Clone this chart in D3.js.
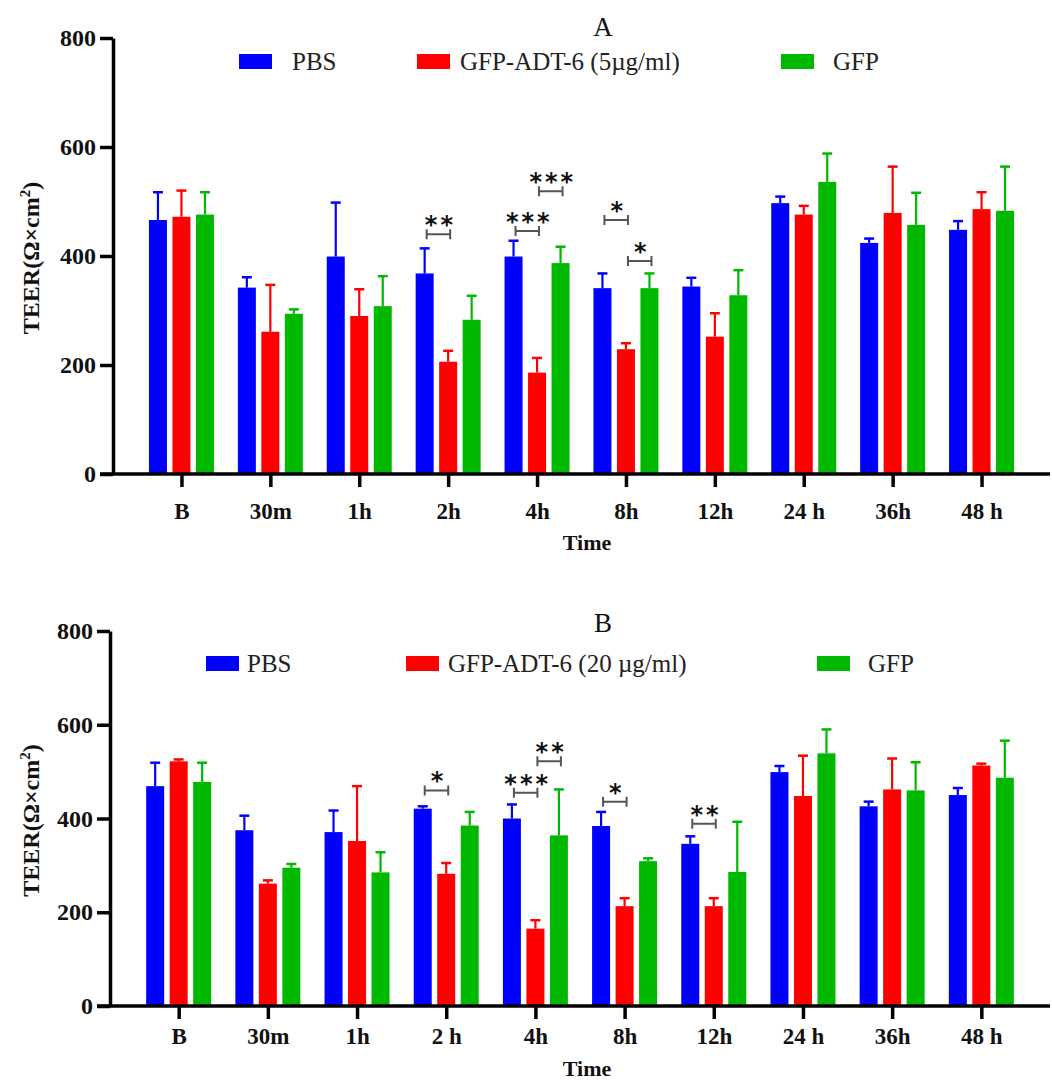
<!DOCTYPE html>
<html>
<head>
<meta charset="utf-8">
<script src="https://cdn.jsdelivr.net/npm/d3@7"></script>
<style>
  body { margin: 0; background: #fff; }
  svg text { font-family: "Liberation Serif", "Times New Roman", serif; }
</style>
</head>
<body>
<div id="chart"></div>
<script>
// Time points (panel B writes "2 h" with a space)
const categoriesA = ["B", "30m", "1h", "2h", "4h", "8h", "12h", "24 h", "36h", "48 h"];
const categoriesB = ["B", "30m", "1h", "2 h", "4h", "8h", "12h", "24 h", "36h", "48 h"];
const seriesNames = ["PBS", "GFP-ADT-6", "GFP"];
const yTicks = [0, 200, 400, 600, 800];

// Panel A means and upper error (SD)
const pbsA = [466, 342, 399, 368, 399, 341, 344, 497, 424, 448];
const adtA = [472, 261, 290, 206, 186, 229, 252, 476, 479, 486];
const gfpA = [476, 294, 308, 283, 387, 341, 328, 536, 457, 483];
const pbsErrA = [51, 19, 99, 46, 29, 27, 16, 12, 8, 16];
const adtErrA = [48, 86, 49, 20, 27, 11, 43, 16, 85, 31];
const gfpErrA = [41, 8, 55, 44, 30, 27, 46, 52, 59, 81];

// Panel B means and upper error (SD)
const pbsB = [469, 375, 371, 421, 400, 384, 346, 499, 426, 450];
const adtB = [522, 261, 352, 282, 165, 213, 213, 448, 462, 513];
const gfpB = [478, 295, 285, 385, 364, 309, 286, 539, 460, 487];
const pbsErrB = [50, 31, 46, 5, 30, 30, 16, 13, 10, 15];
const adtErrB = [4, 7, 117, 23, 18, 17, 17, 86, 66, 4];
const gfpErrB = [41, 8, 43, 29, 98, 6, 107, 51, 60, 79];

// Significance brackets: between series index a and b, at a TEER level
const sigA = [
  { cat: "2h", a: 0, b: 1, level: 440, label: "**" },
  { cat: "4h", a: 0, b: 1, level: 446, label: "***" },
  { cat: "4h", a: 1, b: 2, level: 519, label: "***" },
  { cat: "8h", a: 0, b: 1, level: 466, label: "*" },
  { cat: "8h", a: 1, b: 2, level: 391, label: "*" }
];
const sigB = [
  { cat: "2 h", a: 0, b: 1, level: 460, label: "*" },
  { cat: "4h", a: 0, b: 1, level: 455, label: "***" },
  { cat: "4h", a: 1, b: 2, level: 522, label: "**" },
  { cat: "8h", a: 0, b: 1, level: 436, label: "*" },
  { cat: "12h", a: 0, b: 1, level: 389, label: "**" }
];

const legendA = ["PBS", "GFP-ADT-6 (5\u00b5g/ml)", "GFP"];
const legendB = ["PBS", "GFP-ADT-6 (20 \u00b5g/ml)", "GFP"];

const colors = ["#0000ff", "#ff0000", "#00b800"];

const width = 1052, height = 1082;
const svg = d3.select("#chart").append("svg")
  .attr("width", width)
  .attr("height", height);

svg.append("rect").attr("width", width).attr("height", height).attr("fill", "#fff");

function drawPanel(p) {
  const g = svg.append("g");

  // x: time point centres, inner band for the three groups
  const x = d3.scalePoint()
    .domain(p.categories)
    .range([p.left, p.right])
    .padding(0.77);
  const xs = d3.scaleBand()
    .domain(d3.range(3))
    .range([-32.5, 32.5])
    .paddingInner(0.234);

  const y = d3.scaleLinear()
    .domain([0, 800])
    .range([p.bottom, p.top]);

  const rows = p.categories.map((c, i) => ({
    cat: c,
    vals: p.means.map(m => m[i]),
    errs: p.errs.map(e => e[i])
  }));

  // bars
  const grp = g.selectAll("g.grp")
    .data(rows)
    .join("g")
    .attr("class", "grp")
    .attr("transform", d => `translate(${x(d.cat)},0)`);

  // error bars (upper only)
  grp.selectAll("g.err")
    .data(d => d.vals.map((v, k) => ({ v, e: d.errs[k], k })))
    .join("g")
    .attr("class", "err")
    .each(function (d) {
      const cx = xs(d.k) + xs.bandwidth() / 2;
      const e = d3.select(this);
      e.append("line")
        .attr("x1", cx).attr("x2", cx)
        .attr("y1", y(d.v)).attr("y2", y(d.v + d.e))
        .attr("stroke", colors[d.k]).attr("stroke-width", 2.2);
      e.append("line")
        .attr("x1", cx - 5).attr("x2", cx + 5)
        .attr("y1", y(d.v + d.e)).attr("y2", y(d.v + d.e))
        .attr("stroke", colors[d.k]).attr("stroke-width", 2.5);
    });

  grp.selectAll("rect")
    .data(d => d.vals.map((v, k) => ({ v, k })))
    .join("rect")
    .attr("x", d => xs(d.k))
    .attr("y", d => y(d.v))
    .attr("width", xs.bandwidth())
    .attr("height", d => y(0) - y(d.v))
    .attr("fill", d => colors[d.k]);

  // axes
  const yAxis = g.append("g")
    .attr("transform", `translate(${p.left},0)`)
    .call(d3.axisLeft(y).tickValues(yTicks).tickSize(13).tickSizeOuter(0).tickPadding(4));
  yAxis.select(".domain").attr("stroke-width", 3.5);
  yAxis.selectAll(".tick line").attr("stroke-width", 3.5);
  yAxis.selectAll("text")
    .style("font-family", "'Liberation Serif', serif")
    .style("font-weight", "bold")
    .style("font-size", "24px")
    .attr("fill", "#111");

  const xAxis = g.append("g")
    .attr("transform", `translate(0,${p.bottom})`)
    .call(d3.axisBottom(x).tickSize(13).tickSizeOuter(0).tickPadding(p.xPad));
  xAxis.select(".domain").attr("stroke-width", 3.5)
    .attr("d", `M${p.left - 13},0H${p.right}`);
  xAxis.selectAll(".tick line").attr("stroke-width", 3.5);
  xAxis.selectAll("text")
    .style("font-family", "'Liberation Serif', serif")
    .style("font-weight", "bold")
    .style("font-size", "23px")
    .attr("fill", "#111");

  // axis titles
  g.append("text")
    .attr("x", 587)
    .attr("y", p.timeY)
    .attr("text-anchor", "middle")
    .style("font-weight", "bold")
    .style("font-size", "22px")
    .attr("fill", "#111")
    .text("Time");

  const yt = g.append("text")
    .attr("transform", `translate(39,${(p.top + p.bottom) / 2 + 2}) rotate(-90)`)
    .attr("text-anchor", "middle")
    .style("font-weight", "bold")
    .style("font-size", "24px")
    .attr("fill", "#111");
  yt.append("tspan").text("TEER(\u03a9\u00d7cm");
  yt.append("tspan").attr("dy", -9).style("font-size", "15px").text("2");
  yt.append("tspan").attr("dy", 9).text(")");

  // panel letter
  g.append("text")
    .attr("x", 603)
    .attr("y", p.titleY)
    .attr("text-anchor", "middle")
    .style("font-size", "27px")
    .attr("fill", "#111")
    .text(p.title);

  // legend
  const lg = g.selectAll("g.leg")
    .data(p.legend)
    .join("g")
    .attr("class", "leg")
    .attr("transform", (d, i) => `translate(${p.legendX[i]},${p.legendY})`);
  lg.append("rect")
    .attr("x", 0).attr("y", -16)
    .attr("width", 33).attr("height", 15)
    .attr("fill", (d, i) => colors[i]);
  lg.append("text")
    .attr("x", (d, i) => p.legendGap[i])
    .attr("y", 0)
    .style("font-size", "25px")
    .attr("fill", "#222")
    .text(d => d);

  // significance brackets
  const sg = g.selectAll("g.sig")
    .data(p.sig)
    .join("g")
    .attr("class", "sig")
    .attr("transform", d => `translate(${x(d.cat)},${y(d.level)})`);
  sg.each(function (d) {
    const x1 = xs(d.a) + xs.bandwidth() / 2 + 2;
    const x2 = xs(d.b) + xs.bandwidth() / 2 + 2;
    const s = d3.select(this);
    s.append("path")
      .attr("d", `M${x1},-5V5M${x1},0H${x2}M${x2},-5V5`)
      .attr("fill", "none")
      .attr("stroke", "#555")
      .attr("stroke-width", 2);
    s.append("text")
      .attr("x", (x1 + x2) / 2 + 2)
      .attr("y", -1)
      .attr("text-anchor", "middle")
      .style("font-family", "'DejaVu Sans', sans-serif")
      .style("font-weight", "bold")
      .style("font-size", "24px")
      .style("letter-spacing", "3px")
      .attr("fill", "#111")
      .text(d.label);
  });
}

drawPanel({
  categories: categoriesA,
  means: [pbsA, adtA, gfpA],
  errs: [pbsErrA, adtErrA, gfpErrA],
  sig: sigA,
  legend: legendA,
  legendX: [239, 417, 781],
  legendGap: [53, 43, 52],
  legendY: 70,
  title: "A",
  titleY: 36,
  top: 38, bottom: 474, left: 113, right: 1050,
  xPad: 16, timeY: 550
});

drawPanel({
  categories: categoriesB,
  means: [pbsB, adtB, gfpB],
  errs: [pbsErrB, adtErrB, gfpErrB],
  sig: sigB,
  legend: legendB,
  legendX: [206, 406, 817],
  legendGap: [41, 42, 51],
  legendY: 672,
  title: "B",
  titleY: 632,
  top: 631, bottom: 1006, left: 110, right: 1050,
  xPad: 9, timeY: 1076
});
</script>
</body>
</html>
